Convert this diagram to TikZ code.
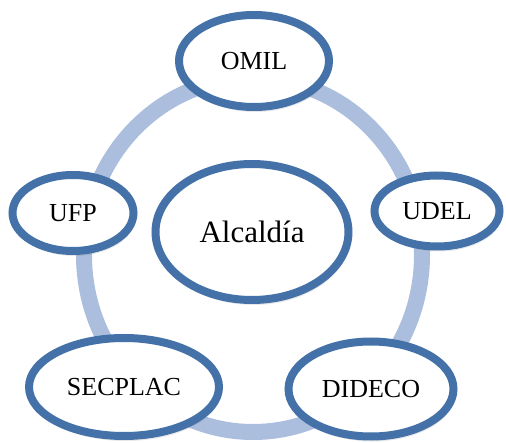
\documentclass[tikz,border=0pt]{standalone}
\usepackage{fontspec}
\setmainfont{Liberation Serif}
\usepackage{tikz}
\usetikzlibrary{shapes.geometric}
\usetikzlibrary{shadows}

\definecolor{ringblue}{RGB}{172,190,221}
\definecolor{rimblue}{RGB}{68,114,168}

\begin{document}
\begin{tikzpicture}[
        x=1pt, y=-1pt,
        every node/.style={ellipse,draw=rimblue,line width=8pt,fill=white,inner sep=0pt,
            font=\fontsize{26}{30}\selectfont,
            drop shadow={opacity=0.18,shadow xshift=1.5pt,shadow yshift=-5pt}},
        ring/.style={draw=ringblue,line width=16pt}
    ]
    \useasboundingbox (0,0) rectangle (506,443);

    % ring behind the units
    \draw[ring] (253,255) ellipse [x radius=169pt, y radius=177pt];

    \node[minimum width=193pt,minimum height=136pt,font=\fontsize{31}{36}\selectfont] (alc) at (252,232) {Alcaldía};

    \node[minimum width=150pt,minimum height=92pt] (omil) at (254,61) {OMIL};
    \node[minimum width=125pt,minimum height=71pt] (udel) at (437,211) {UDEL};
    \node[minimum width=165pt,minimum height=95pt] (dideco) at (371,389) {DIDECO};
    \node[minimum width=190pt,minimum height=98pt] (secplac) at (124,387) {SECPLAC};
    \node[minimum width=121pt,minimum height=76pt] (ufp) at (73,213) {UFP};
\end{tikzpicture}
\end{document}
